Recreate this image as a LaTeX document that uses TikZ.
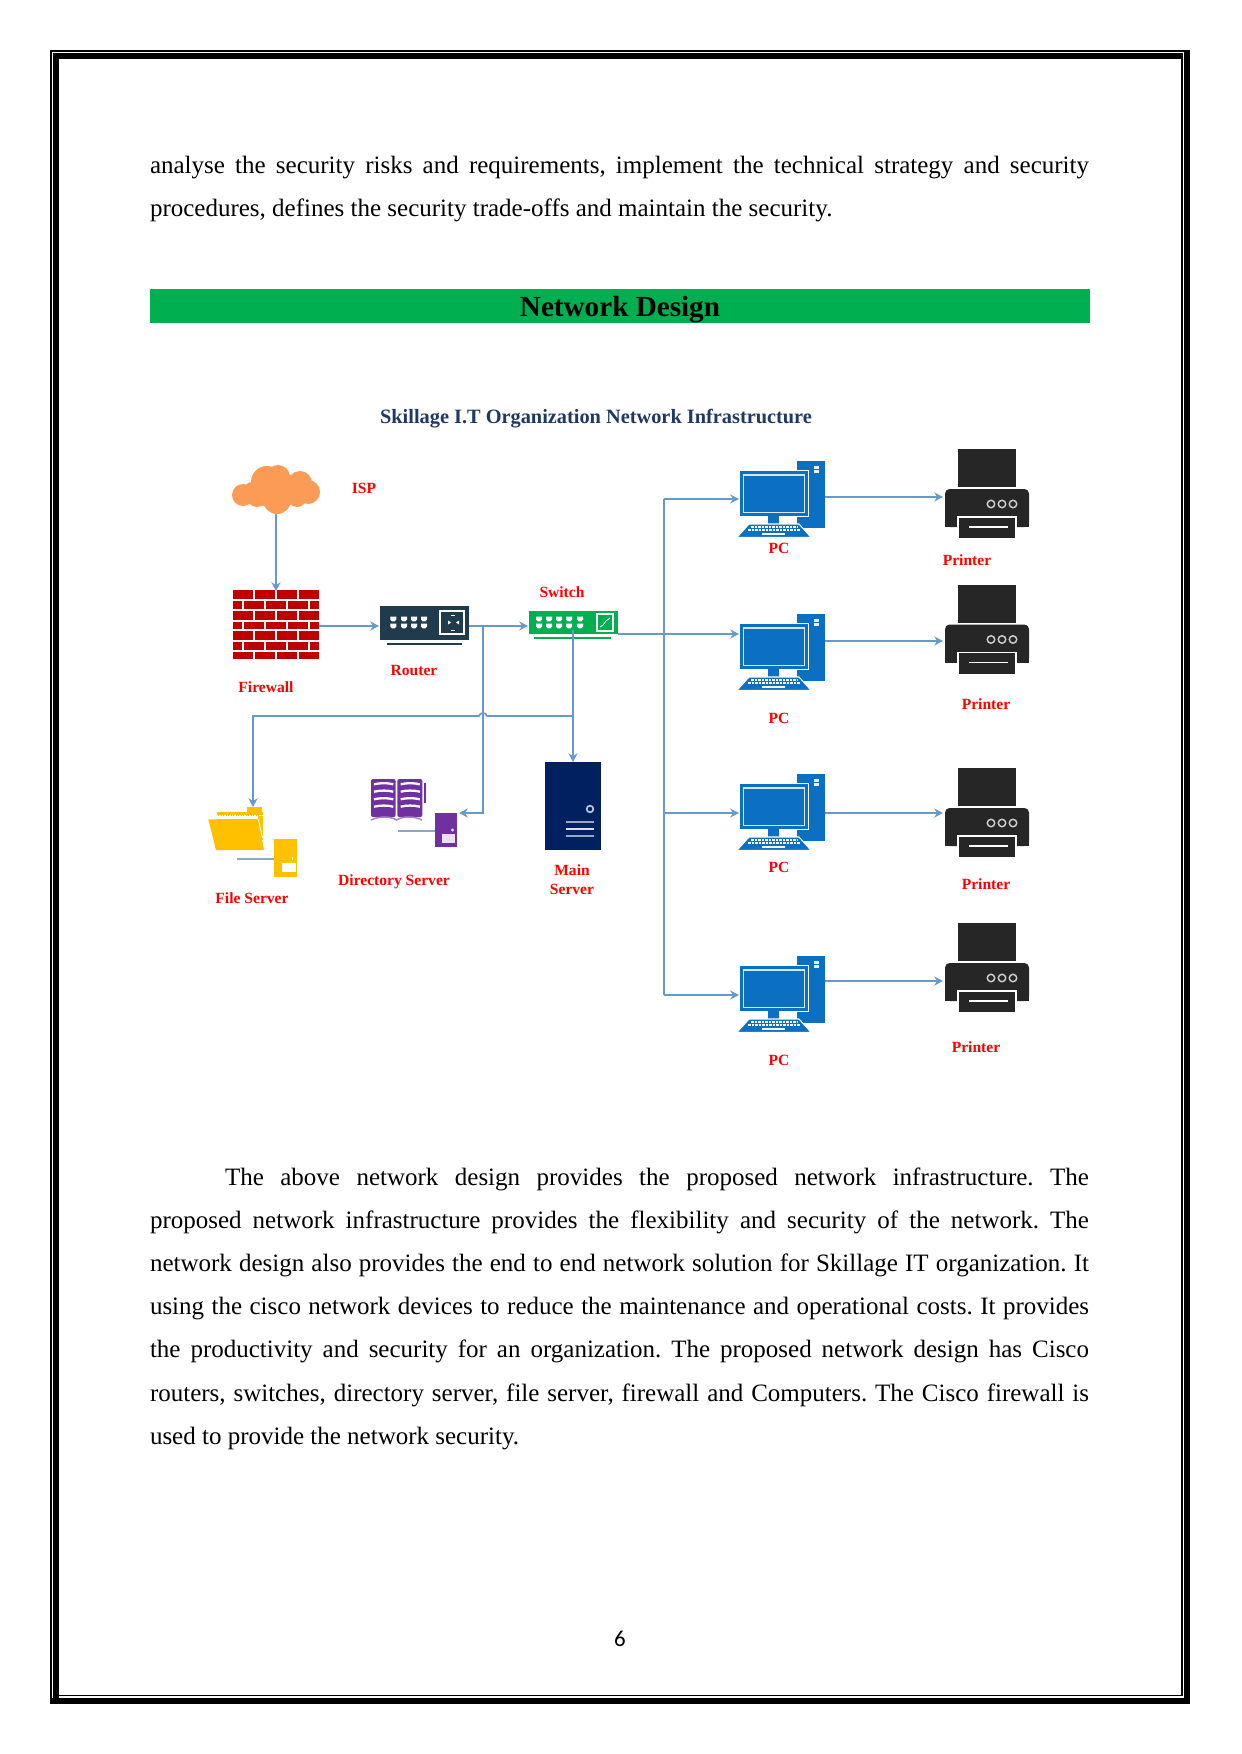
\documentclass[tikz,border=0pt]{standalone}
\usepackage{fontspec}
\setmainfont{Liberation Serif}
\newfontfamily\pagenumfont{Carlito}
\usetikzlibrary{arrows.meta,calc}
\frenchspacing
\definecolor{connblue}{HTML}{6699CC}
\definecolor{pcblue}{HTML}{0B6FC2}
\definecolor{pclight}{HTML}{CFE8FA}
\definecolor{barGreen}{HTML}{00B050}
\definecolor{printerDark}{HTML}{262626}
\definecolor{routerDark}{HTML}{1F3B4D}
\definecolor{brickRed}{HTML}{C00000}
\definecolor{cloudOrange}{HTML}{FB9B55}
\definecolor{navyServer}{HTML}{002060}
\definecolor{titleNavy}{HTML}{1F3864}
\definecolor{bookPurple}{HTML}{7030A0}
\definecolor{folderGold}{HTML}{FFC000}
\definecolor{stubBlue}{HTML}{8EA9C8}
\newdimen\pxu \pxu=0.4818pt
\newcommand{\bodyfont}{\frenchspacing\fontsize{12.045pt}{14pt}\selectfont}
\tikzset{
  blk/.style n args={3}{minimum width=#1*0.4818pt,minimum height=#2*0.4818pt,inner sep=0pt,outer sep=0pt,fill=#3},
  ghost/.style 2 args={minimum width=#1*0.4818pt,minimum height=#2*0.4818pt,inner sep=0pt,outer sep=0pt},
  conn/.style={draw=connblue,line width=0.8pt},
  arr/.style={conn,-{Stealth[length=4.2pt,width=4.4pt]}},
  bodyline/.style={anchor=base west,inner sep=0pt,outer sep=0pt,font=\bodyfont,text=black},
  lab/.style={anchor=base,inner sep=0pt,outer sep=0pt,text=red,font=\fontsize{7.5pt}{9pt}\selectfont\bfseries},
  wline/.style={draw=white,line width=1.1pt},
}
\newcommand{\swport}[2]{\fill[white,shift={(#1,#2)}] (-3,-2.3) -- (3,-2.3) -- (3,0.6) -- (1.3,2.3) -- (-1.3,2.3) -- (-3,0.6) -- cycle;}
\newcommand{\cir}[3]{\fill[cloudOrange] (#1,#2) circle[radius=#3*0.4818pt];}
\newcommand{\pcicon}[2]{%
  \begin{scope}[shift={(0,#2)}]
    \node[blk={28}{67}{pcblue}] (#1t) at (811,494.5) {};
    \fill[white!90!pcblue] (813.5,466) rectangle (819,472.5);
    \fill[pcblue] (813.5,468.7) rectangle (819,469.7);
    \fill[white] (738.8,469.8) rectangle (809.3,517.2);
    \node[blk={68}{45}{pcblue}] (#1m) at (774,493.5) {};
    \draw[pclight,line width=0.55pt] (743.3,475) rectangle (804.3,512.3);
    \fill[white] (780,517) rectangle (797,528);
    \fill[pcblue] (768,516) rectangle (779,524);
    \draw[white,line width=0.5pt,fill=pcblue] (749,524) -- (799,524) -- (811,537.3) -- (737,537.3) -- cycle;
    \draw[white,line width=0.5pt,dash pattern=on 1.2pt off 0.5pt] (751,527) -- (797,527);
    \draw[white,line width=0.5pt,dash pattern=on 1.2pt off 0.5pt] (748,530) -- (800,530);
    \draw[white,line width=0.7pt] (762,534) -- (785,534);
  \end{scope}}
\newcommand{\printericon}[2]{%
  \begin{scope}[shift={(0,#2)}]
    \fill[printerDark] (958,449) rectangle (1016,487);
    \node[ghost={84}{38}] (#1) at (987,508) {};
    \fill[printerDark,rounded corners=2.2pt] (945,527) -- (945,489) -- (1029,489) -- (1029,527) -- cycle;
    \fill[printerDark] (945,520) rectangle (1029,527);
    \draw[draw=white,fill=printerDark,line width=0.55pt] (958,517) rectangle (1016,539);
    \fill[white] (957,538.6) rectangle (1017,541);
    \draw[white,line width=0.55pt] (969,527) -- (1008,527);
    \foreach \xc in {991,1002,1013}{\draw[draw=black!20,line width=0.7pt] (\xc,504) circle[radius=1.8pt];}
  \end{scope}}
\begin{document}
\begin{tikzpicture}[x=0.4818pt,y=-0.4818pt]
\useasboundingbox (0,0) rectangle (1241,1754);
\fill[white] (0,0) rectangle (1241,1754);
% page border
\fill[black] (50,50) rectangle (1190,52.2);
\fill[black] (50,50) rectangle (52.2,1704);
\fill[black] (1184,50) rectangle (1190,1704);
\fill[black] (50,1698) rectangle (1190,1704);
\fill[black] (53,53) rectangle (59,1698);
\fill[black] (53,53) rectangle (1182.5,59);
\fill[black] (1181,53) rectangle (1182.5,1696.2);
\fill[black] (53,1695) rectangle (1182.5,1696.2);
% body text, top
\node[bodyline] (t1) at (150,174) {\makebox[939\pxu][s]{analyse the security risks and requirements, implement the technical strategy and security}};
\node[bodyline] (t2) at (150,217) {procedures, defines the security trade-offs and maintain the security.};
% heading bar
\node[blk={940}{34}{barGreen},anchor=north west] (bar) at (150,289) {};
\node[anchor=base,inner sep=0pt,font=\fontsize{14.05pt}{16pt}\selectfont\bfseries] (head) at (620,317) {Network Design};
% diagram title
\node[anchor=base,inner sep=0pt,text=titleNavy,font=\fontsize{9.8pt}{12pt}\selectfont\bfseries] (title) at (596,423) {Skillage I.T Organization Network Infrastructure};
% cloud
\node[ghost={88}{49}] (cloudn) at (276,489.5) {};
\cir{243}{495}{11}\cir{267}{482}{16}\cir{278}{477}{12}\cir{300}{483}{12}\cir{308}{492}{12}\cir{277}{500}{14}\cir{257}{497}{10}\cir{297}{497}{10}\cir{285}{488}{14}\cir{265}{494}{12}\cir{252}{490}{8}
% firewall
\node[blk={86}{69}{brickRed}] (fw) at (276,624.5) {};
\foreach \yy in {600.3,610.3,620.7,630.3,640.7,651}{\draw[wline] (233,\yy) -- (319,\yy);}
\foreach \yt/\yb in {590/600.3,610.3/620.7,630.3/640.7,651/659}{\foreach \xx in {254.3,276.3,298.3}{\draw[wline] (\xx,\yt) -- (\xx,\yb);}}
\foreach \yt/\yb in {600.3/610.3,620.7/630.3,640.7/651}{\foreach \xx in {243.3,265,287,309}{\draw[wline] (\xx,\yt) -- (\xx,\yb);}}
% router
\node[blk={89}{34}{routerDark}] (router) at (424.5,623) {};
\fill[routerDark] (387,643.3) rectangle (462,645);
\foreach \xx in {393.3,404,414,424}{\foreach \yy in {619,626}{\swport{\xx}{\yy}}}
\draw[white,line width=0.6pt] (440,611) rectangle (464,634);
\fill[white] (451,615) rectangle (455,616);\fill[white] (451,630) rectangle (455,631);
\fill[white] (448,620.5) -- (451,622.5) -- (448,624.5) -- cycle;
\fill[white] (459,620.5) -- (456,622.5) -- (459,624.5) -- cycle;
% switch
\node[blk={89}{23}{barGreen}] (switch) at (573.5,622.5) {};
\fill[barGreen] (534,637.3) rectangle (611,638.8);
\foreach \xx in {539,549,559,569,580}{\foreach \yy in {619,626}{\swport{\xx}{\yy}}}
\draw[white,line width=0.55pt] (597,614) rectangle (613,631);
\draw[white,line width=0.4pt] (600,627) -- (603,625) -- (606,621) -- (610,618);
% main server
\node[blk={56}{88}{navyServer}] (mainsrv) at (573,806) {};
\draw[white!75!navyServer,line width=0.8pt] (590,809) circle[radius=1.6pt];
\draw[white!60!navyServer,line width=1.1pt] (566,822) -- (594,822);
\draw[white!85!navyServer,line width=1.2pt] (566,829) -- (594,829);
\draw[white!60!navyServer,line width=1.1pt] (566,836) -- (594,836);
% directory server
\fill[bookPurple,rounded corners=1pt] (371,779) rectangle (395.7,817);
\fill[bookPurple,rounded corners=1pt] (397.3,779) rectangle (422.3,817);
\fill[bookPurple] (423.5,783) rectangle (426,803);
\foreach \yy in {784.3,791.7,799.3,806.7}{
  \draw[white,line width=1.1pt] (374,\yy) .. controls (380,\yy-1.5) and (388,\yy-1.5) .. (393.3,\yy);
  \draw[white,line width=1.1pt] (400.7,\yy) .. controls (406,\yy-1.5) and (414,\yy-1.5) .. (420,\yy);}
\draw[bookPurple!60,line width=0.7pt] (371,820) .. controls (380,816) and (390,816) .. (396.5,820) .. controls (403,816) and (414,816) .. (422,820);
\node[blk={22}{34}{bookPurple}] (dirbox) at (446,830) {};
\fill[white!85!bookPurple] (441.5,834) rectangle (454.5,842.7);
\fill[white!85!bookPurple] (452.5,830) circle[radius=0.8pt];
\coordinate (dirstub) at (398,831);
\draw[draw=stubBlue,line width=0.7pt] (dirstub) -- (dirbox.west |- dirstub);
% file server
\fill[folderGold] (247.3,806.7) rectangle (261.7,812);
\fill[folderGold] (216.7,812.3) rectangle (262.7,840);
\draw[white,line width=0.5pt,dash pattern=on 0.7pt off 0.5pt] (217,815.5) -- (262,815.5);
\fill[white] (216.7,816) rectangle (258,819.3);
\fill[folderGold] (208.3,819.3) -- (258.3,819.3) -- (264,850) -- (216,850) -- cycle;
\draw[white,line width=0.4pt] (258.3,819.3) -- (262.5,838);
\node[blk={23}{38}{folderGold}] (filebox) at (285.5,858) {};
\fill[white] (281.7,863.3) rectangle (296,872);
\fill[white] (292,857) rectangle (293,860);
\coordinate (filestub) at (237,859);
\draw[draw=stubBlue,line width=0.7pt] (filestub) -- (filebox.west |- filestub);
\node[ghost={56}{43}] (folder) at (236,828.5) {};
% PCs and printers
\pcicon{pca}{0}
\pcicon{pcb}{153}
\pcicon{pcc}{313}
\pcicon{pcd}{495}
\printericon{pra}{0}
\printericon{prb}{135.5}
\printericon{prc}{319}
\printericon{prd}{474}
% connector reference points
\coordinate (rowa) at (0,626);
\coordinate (hop) at (483,716);
\coordinate (dirturn) at (483,813);
\coordinate (fileturn) at (253,716);
\coordinate (swdrop) at (573,716);
\coordinate (swport) at (573,630);
\coordinate (bustop) at (664,499);
\coordinate (busmid) at (664,634);
\coordinate (busc) at (664,813);
\coordinate (busbot) at (664,995);
\coordinate (pra-y) at (0,497);
\coordinate (prb-y) at (0,641);
\coordinate (prc-y) at (0,813);
\coordinate (prd-y) at (0,981);
% connectors
\draw[arr] (cloudn.south) -- ([yshift=-0.5pt]fw.north);
\draw[arr] (fw.east |- rowa) -- ([xshift=-0.5pt]router.west |- rowa);
\draw[arr] (router.east |- rowa) -- ([xshift=-0.5pt]switch.west |- rowa);
\draw[arr] (router.east -| hop) ++(0,3) -- (dirturn) -- ([xshift=1pt]dirbox.east |- dirturn);
\draw[arr] (swport) -- (mainsrv.north);
\draw[arr] (swdrop) -- (487,716) .. controls (486,712) and (480,712) .. (479,716) -- (fileturn) -- (folder.north -| fileturn);
\draw[conn,line width=1.1pt] (switch.east |- busmid) -- (busmid);
\draw[conn] (bustop) -- (busbot);
\draw[arr] (bustop) -- ([xshift=-0.5pt]pcam.west |- bustop);
\draw[arr] (busmid) -- ([xshift=-0.5pt]pcbm.west |- busmid);
\draw[arr] (busc) -- ([xshift=-0.5pt]pccm.west |- busc);
\draw[arr] (busbot) -- ([xshift=-0.5pt]pcdm.west |- busbot);
\draw[arr] (pcat.east |- pra-y) -- ([xshift=-1pt]pra.west |- pra-y);
\draw[arr] (pcbt.east |- prb-y) -- ([xshift=-1pt]prb.west |- prb-y);
\draw[arr] (pcct.east |- prc-y) -- ([xshift=-1pt]prc.west |- prc-y);
\draw[arr] (pcdt.east |- prd-y) -- ([xshift=-1pt]prd.west |- prd-y);
% labels
\node[lab] (lisp) at (364,493) {ISP};
\node[lab] (lfw) at (266,692) {Firewall};
\node[lab] (lrt) at (414,675) {Router};
\node[lab] (lsw) at (562,597) {Switch};
\node[lab] (lfile) at (252,903) {File Server};
\node[lab] (ldir) at (394,885) {Directory Server};
\node[lab] (lmain) at (572,875) {Main};
\node[lab] (lsrv) at (572,894) {Server};
\node[lab] (lpca) at (779,553) {PC};
\node[lab] (lpcb) at (779,723) {PC};
\node[lab] (lpcc) at (779,872) {PC};
\node[lab] (lpcd) at (779,1065) {PC};
\node[lab] (lpra) at (967,565) {Printer};
\node[lab] (lprb) at (986,709) {Printer};
\node[lab] (lprc) at (986,889) {Printer};
\node[lab] (lprd) at (976,1052) {Printer};
% body text, bottom
\node[bodyline] (p1) at (225,1185) {\makebox[864\pxu][s]{The above network design provides the proposed network infrastructure. The}};
\node[bodyline] (p2) at (150,1228.2) {\makebox[939\pxu][s]{proposed network infrastructure provides the flexibility and security of the network. The}};
\node[bodyline] (p3) at (150,1271.4) {\makebox[939\pxu][s]{network design also provides the end to end network solution for Skillage IT organization. It}};
\node[bodyline] (p4) at (150,1314.6) {\makebox[939\pxu][s]{using the cisco network devices to reduce the maintenance and operational costs. It provides}};
\node[bodyline] (p5) at (150,1357.8) {\makebox[939\pxu][s]{the productivity and security for an organization. The proposed network design has Cisco}};
\node[bodyline] (p6) at (150,1401) {\makebox[939\pxu][s]{routers, switches, directory server, file server, firewall and Computers. The Cisco firewall is}};
\node[bodyline] (p7) at (150,1444.2) {used to provide the network security.};
\node[anchor=base,inner sep=0pt,font=\fontsize{11pt}{13pt}\selectfont\pagenumfont] (pnum) at (620,1646) {6};
\end{tikzpicture}
\end{document}
